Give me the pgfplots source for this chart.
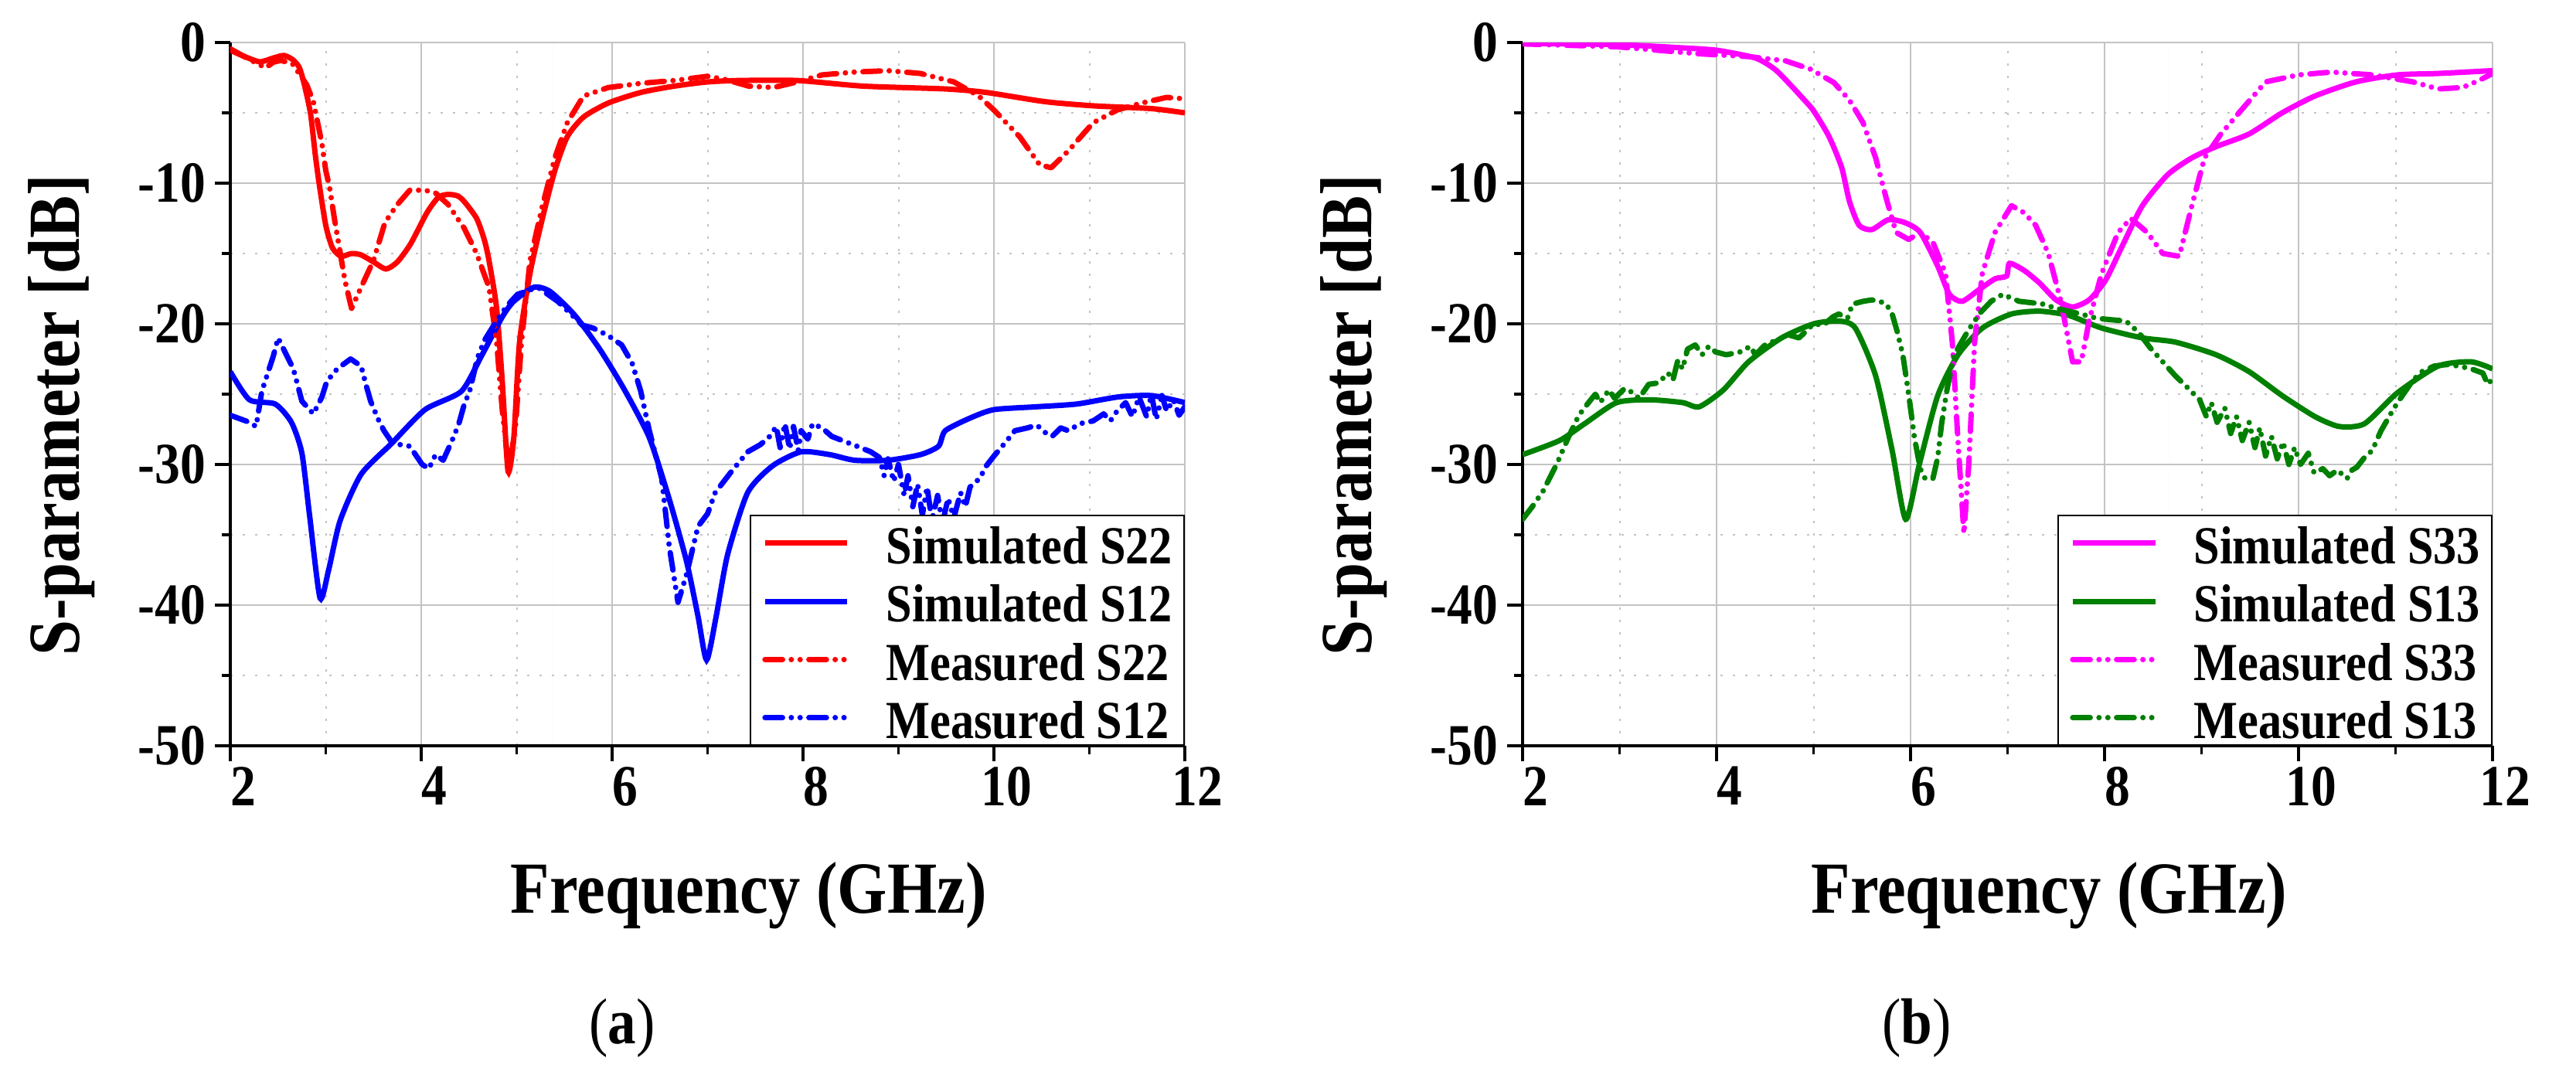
\documentclass[border=0pt]{standalone}
\usepackage{fontspec}
\setmainfont{Liberation Serif}[FakeStretch=0.87]
\usepackage{pgfplots}
\pgfplotsset{compat=1.18}

\definecolor{shade}{RGB}{211,236,241}
\definecolor{dgreen}{RGB}{0,128,0}
\definecolor{pmag}{RGB}{255,0,255}
\definecolor{pred}{RGB}{255,0,0}
\definecolor{pblue}{RGB}{0,0,255}
\definecolor{majgrid}{RGB}{195,195,195}
\definecolor{mingrid}{RGB}{195,195,195}

\newcommand{\tickfont}{\fontsize{11.3}{13}\selectfont\bfseries}

\pgfplotsset{
 sparam/.style={
  scale only axis, set layers,
  height=136.5pt,
  xmin=2,xmax=12,ymin=-50,ymax=0,
  xtick={2,4,...,12}, ytick={-50,-40,...,0},
  minor x tick num=1, minor y tick num=1,
  axis x line=bottom, axis y line=left,
  axis line style={-, line width=0.5pt, black},
  tick align=outside, major tick length=3pt, minor tick length=1.6pt,
  every tick/.style={black, line width=0.5pt},
  grid=both,
  major grid style={majgrid, line width=0.35pt},
  minor grid style={mingrid, dotted, line width=0.3pt},
  /pgf/number format/assume math mode=true,
  xticklabel={\tickfont\pgfmathprintnumber[assume math mode=true]{\tick}},
  yticklabel={\tickfont\pgfmathprintnumber[assume math mode=true]{\tick}},
  xticklabel style={font=\tickfont, inner sep=0pt, anchor=north, yshift=-0.9pt, xshift=2.5pt},
  yticklabel style={font=\tickfont, inner sep=0pt, anchor=east, xshift=-1.6pt},
  xlabel={Frequency (GHz)}, ylabel={S-parameter [dB]},
  label style={font=\fontsize{14.25}{16}\selectfont\bfseries, inner sep=0pt},
  xlabel style={at={(axis description cs:0.543,-0.1637)}, anchor=north},
  legend style={at={(1,0)}, anchor=south east, draw=black, line width=0.3pt, fill=white,
     font=\fontsize{10.4}{12}\selectfont\bfseries,
     inner xsep=2.25pt, inner ysep=0.7pt, row sep=2.1pt, column sep=7pt,
     nodes={inner sep=0pt, text height=8.6pt, text depth=0.6pt}},
  legend cell align=left,
  legend image code/.code={\draw[#1] (0pt,0pt) -- (16pt,0pt);},
 },
 sim/.style={line width=1.05pt, smooth, tension=0.4},
 meas/.style={line width=1.05pt, line cap=round, line join=round,
   dash pattern=on 3.4pt off 1.7pt on 0.01pt off 1.7pt on 0.01pt off 1.7pt},
}

\begin{document}
\begin{tikzpicture}
\path (0,0) rectangle (499.95pt,207.9pt);

%================ (a) ================
\begin{axis}[sparam, at={(44.7pt,63.15pt)}, anchor=south west, width=185.25pt,
  ylabel style={at={(axis description cs:-0.141,0.47)}, anchor=south}]
\addplot[fill=shade, draw=none, forget plot, on layer=axis background]
  coordinates {(2.95,-50)(2.95,0)(5.38,0)(5.38,-50)} \closedcycle;

% Simulated S22
\addplot[sim, pred] coordinates {
(2.0,-0.55)(2.15,-1.0)(2.31,-1.37)(2.45,-1.1)(2.56,-0.92)(2.65,-1.2)(2.72,-1.74)(2.77,-2.84)(2.84,-5.04)(2.89,-7.97)(2.93,-10)(3.0,-13.0)(3.07,-14.6)(3.16,-15.2)(3.27,-15.0)(3.37,-15.1)(3.5,-15.6)(3.63,-16.1)(3.75,-15.6)(3.89,-14.3)(4.06,-12.1)(4.18,-11.0)(4.28,-10.8)(4.38,-10.9)(4.45,-11.3)(4.58,-12.5)(4.66,-14)(4.71,-15.5)(4.79,-18.9)(4.85,-24.2)(4.91,-30.5)(4.97,-28.1)(5.03,-21.3)(5.14,-16.4)(5.27,-12.5)(5.40,-9.1)(5.53,-6.7)(5.70,-5.3)(5.96,-4.3)(6.30,-3.55)(6.65,-3.1)(7.0,-2.8)(7.34,-2.7)(7.94,-2.7)(8.63,-3.1)(9.49,-3.3)(9.92,-3.55)(10.53,-4.2)(11.04,-4.5)(11.65,-4.7)(12,-5.0)};
\addlegendentry{Simulated S22}

% Simulated S12
\addplot[sim, pblue] coordinates {
(2.0,-23.4)(2.2,-25.4)(2.47,-25.7)(2.64,-27.0)(2.75,-29.2)(2.83,-33.6)(2.94,-39.5)(3.03,-37.5)(3.15,-34)(3.37,-30.7)(3.69,-28.5)(4.04,-26.1)(4.42,-24.8)(4.63,-22.3)(4.85,-19.5)(4.97,-18.4)(5.18,-17.4)(5.35,-17.7)(5.61,-19.4)(5.87,-21.8)(6.13,-24.7)(6.39,-28.1)(6.6,-32.5)(6.78,-36.9)(6.9,-40.8)(6.99,-43.9)(7.09,-40.8)(7.21,-36.4)(7.42,-32.0)(7.68,-30.1)(7.98,-29.1)(8.28,-29.3)(8.54,-29.7)(8.89,-29.7)(9.23,-29.3)(9.42,-28.7)(9.49,-27.6)(9.75,-26.7)(10.0,-26.1)(10.44,-25.9)(10.87,-25.7)(11.3,-25.2)(11.65,-25.1)(12,-25.6)};
\addlegendentry{Simulated S12}

% Measured S22
\addplot[meas, pred] coordinates {
(2.0,-0.45)(2.2,-1.2)(2.37,-1.8)(2.45,-1.4)(2.53,-1.27)(2.65,-1.5)(2.75,-2.5)(2.8,-3.0)(2.87,-4.2)(2.96,-7.2)(3.0,-9.1)(3.04,-10.3)(3.09,-12.5)(3.14,-14.5)(3.2,-16.9)(3.27,-18.9)(3.37,-17.4)(3.5,-15.5)(3.62,-12.8)(3.74,-11.6)(3.88,-10.5)(4.04,-10.5)(4.15,-10.7)(4.28,-11.5)(4.34,-12.1)(4.45,-13.2)(4.58,-15)(4.71,-17.4)(4.79,-21.3)(4.85,-26.2)(4.92,-30.5)(4.99,-27.1)(5.05,-21.3)(5.14,-15.5)(5.27,-11.6)(5.40,-8.2)(5.53,-5.7)(5.70,-3.8)(5.96,-3.2)(6.30,-2.9)(6.65,-2.7)(7.0,-2.4)(7.17,-2.6)(7.43,-3.1)(7.69,-3.2)(7.94,-2.8)(8.2,-2.3)(8.54,-2.1)(8.89,-2.0)(9.23,-2.2)(9.58,-2.8)(9.84,-3.8)(10.0,-4.8)(10.27,-6.7)(10.48,-8.7)(10.6,-8.9)(10.78,-7.7)(11.04,-5.7)(11.29,-4.8)(11.55,-4.3)(11.81,-3.9)(12,-4.0)};
\addlegendentry{Measured S22}

% Measured S12
\addplot[meas, pblue] coordinates {
(2.0,-26.5)(2.2,-27.0)(2.27,-27.3)(2.33,-24.8)(2.45,-22.3)(2.5,-21.0)(2.66,-23.2)(2.75,-25.5)(2.87,-26.4)(2.96,-25.2)(3.01,-24.1)(3.12,-23.2)(3.26,-22.5)(3.37,-23.0)(3.42,-24.3)(3.47,-25.5)(3.55,-26.8)(3.61,-27.6)(3.7,-28.5)(3.88,-28.7)(3.94,-29.3)(4.01,-30.0)(4.08,-30.3)(4.15,-29.3)(4.23,-29.7)(4.31,-28.5)(4.39,-27.2)(4.46,-25.5)(4.5,-25.0)(4.59,-22.4)(4.66,-21.2)(4.77,-20.0)(4.9,-18.7)(5.01,-17.9)(5.22,-17.4)(5.43,-18.4)(5.69,-20.1)(5.8,-20.3)(5.95,-20.8)(6.1,-21.5)(6.21,-22.8)(6.3,-24.8)(6.39,-27.6)(6.52,-31.0)(6.6,-35.9)(6.69,-39.8)(6.78,-37.8)(6.9,-34.4)(7.0,-33.5)(7.08,-32)(7.25,-30.5)(7.42,-29.1)(7.55,-28.6)(7.64,-28.1)(7.72,-27.3)(7.76,-28.8)(7.81,-27.1)(7.86,-28.9)(7.9,-27.3)(7.95,-29)(7.98,-27.6)(8.05,-28.2)(8.1,-27.1)(8.2,-27.4)(8.3,-28)(8.45,-28.4)(8.6,-28.8)(8.71,-29.1)(8.8,-29.5)(8.85,-30.8)(8.89,-29.6)(8.95,-31.2)(9.0,-30.0)(9.06,-32.2)(9.1,-30.8)(9.15,-33.0)(9.2,-31.4)(9.25,-33.6)(9.3,-31.6)(9.35,-34.0)(9.41,-32.2)(9.46,-34.2)(9.52,-32.4)(9.58,-33.8)(9.65,-32.0)(9.7,-33.0)(9.75,-31.6)(9.85,-31.0)(9.92,-30.1)(10.0,-29.4)(10.1,-28.6)(10.22,-27.6)(10.35,-27.4)(10.45,-27.2)(10.55,-27.8)(10.61,-28.0)(10.7,-27.4)(10.78,-27.6)(10.9,-27.1)(11.04,-26.9)(11.15,-26.4)(11.22,-26.9)(11.29,-26.2)(11.38,-25.6)(11.45,-26.6)(11.52,-25.2)(11.6,-26.6)(11.65,-25.0)(11.7,-26.8)(11.76,-25.1)(11.81,-26.2)(11.88,-25.4)(11.94,-26.5)(12,-25.9)};
\addlegendentry{Measured S12}
\end{axis}

%================ (b) ================
\begin{axis}[sparam, at={(295.5pt,63.15pt)}, anchor=south west, width=188.25pt,
  ylabel style={at={(axis description cs:-0.139,0.47)}, anchor=south}]
\addplot[fill=shade, draw=none, forget plot, on layer=axis background]
  coordinates {(5.34,-50)(5.34,0)(8.66,0)(8.66,-50)} \closedcycle;

% Simulated S33
\addplot[sim, pmag] coordinates {
(2,-0.05)(2.97,-0.15)(3.57,-0.35)(4.0,-0.55)(4.4,-1.1)(4.6,-1.9)(4.76,-3.0)(4.88,-3.9)(5.0,-4.85)(5.16,-6.7)(5.29,-8.9)(5.37,-11.3)(5.47,-13.0)(5.6,-13.3)(5.77,-12.6)(5.94,-12.8)(6.1,-13.5)(6.28,-15.9)(6.4,-17.9)(6.53,-18.4)(6.7,-17.6)(6.87,-16.8)(6.99,-16.6)(7.02,-15.7)(7.17,-16.2)(7.33,-17.1)(7.5,-18.3)(7.67,-18.8)(7.84,-18.3)(8.01,-16.9)(8.18,-14.5)(8.39,-11.6)(8.65,-9.4)(8.9,-8.2)(9.15,-7.4)(9.49,-6.5)(9.83,-5.0)(10.17,-3.8)(10.59,-2.8)(11.02,-2.3)(11.44,-2.2)(12,-2.0)};
\addlegendentry{Simulated S33}

% Simulated S13
\addplot[sim, dgreen] coordinates {
(2,-29.3)(2.38,-28.3)(2.64,-27.1)(2.97,-25.6)(3.31,-25.4)(3.65,-25.6)(3.82,-25.9)(4.07,-24.7)(4.33,-22.7)(4.67,-21.0)(5.0,-20.0)(5.26,-19.8)(5.43,-20.3)(5.64,-23.7)(5.81,-29)(5.95,-33.9)(6.09,-30)(6.28,-25.1)(6.49,-22.2)(6.74,-20.3)(7.04,-19.3)(7.33,-19.1)(7.63,-19.4)(7.97,-20.3)(8.39,-21.0)(8.73,-21.3)(9.15,-22.2)(9.49,-23.4)(9.83,-25.1)(10.17,-26.6)(10.42,-27.3)(10.68,-27.1)(11.02,-24.9)(11.44,-23.0)(11.78,-22.7)(12,-23.2)};
\addlegendentry{Simulated S13}

% Measured S33
\addplot[meas, pmag] coordinates {
(2,-0.1)(2.97,-0.3)(3.82,-0.8)(4.33,-1.0)(4.71,-1.3)(4.97,-1.9)(5.21,-2.85)(5.37,-4.1)(5.51,-5.7)(5.64,-8.2)(5.75,-11.1)(5.85,-13.5)(5.98,-14)(6.1,-13.5)(6.23,-14.2)(6.36,-16.4)(6.43,-21.3)(6.49,-28.5)(6.55,-34.9)(6.6,-30)(6.66,-21.3)(6.74,-16.4)(6.87,-13.5)(7.04,-11.6)(7.17,-12.1)(7.29,-13.0)(7.42,-15)(7.55,-18.4)(7.67,-22.7)(7.76,-22.7)(7.84,-19.8)(7.97,-16.4)(8.14,-13.5)(8.27,-12.5)(8.44,-13.5)(8.6,-15)(8.77,-15.2)(8.9,-11.6)(9.03,-8.2)(9.2,-6.5)(9.41,-4.8)(9.66,-2.8)(10,-2.3)(10.34,-2.1)(10.76,-2.3)(11.18,-2.8)(11.44,-3.3)(11.69,-3.2)(11.86,-2.7)(12,-2.2)};
\addlegendentry{Measured S33}

% Measured S13
\addplot[meas, dgreen] coordinates {
(2,-33.9)(2.1,-33)(2.21,-31.9)(2.35,-30)(2.47,-28.1)(2.58,-26.5)(2.68,-25.6)(2.75,-25.0)(2.8,-25.6)(2.89,-24.7)(2.95,-25.3)(3.05,-24.6)(3.14,-24.9)(3.2,-25.3)(3.3,-24.3)(3.4,-24.2)(3.5,-23.5)(3.55,-24.0)(3.6,-22.6)(3.65,-23.2)(3.7,-21.8)(3.78,-21.5)(3.85,-22.2)(3.92,-21.6)(3.99,-22)(4.1,-22.2)(4.24,-22)(4.35,-21.6)(4.4,-22.2)(4.5,-21.5)(4.6,-21.2)(4.75,-20.8)(4.85,-21.0)(5.0,-20)(5.1,-20.1)(5.2,-19.5)(5.26,-19.3)(5.35,-19.6)(5.4,-18.6)(5.51,-18.4)(5.6,-18.3)(5.68,-18.4)(5.75,-18.6)(5.81,-19.3)(5.86,-20.5)(5.92,-22.2)(5.98,-25)(6.04,-28.1)(6.1,-30.3)(6.15,-31)(6.23,-31)(6.28,-29.5)(6.32,-27.1)(6.38,-24.5)(6.45,-22.2)(6.55,-21.0)(6.61,-20.3)(6.72,-19.2)(6.83,-18.4)(6.95,-17.9)(7.05,-18.2)(7.12,-18.4)(7.25,-18.5)(7.37,-18.6)(7.5,-18.9)(7.63,-19.1)(7.75,-19.3)(7.92,-19.6)(8.05,-19.7)(8.22,-19.8)(8.35,-20.6)(8.47,-21.7)(8.6,-22.7)(8.73,-23.7)(8.85,-24.5)(8.98,-25.4)(9.05,-26.6)(9.1,-25.6)(9.16,-27.0)(9.24,-26.0)(9.3,-27.8)(9.36,-26.6)(9.42,-28.3)(9.49,-27.0)(9.55,-28.8)(9.6,-27.4)(9.66,-29.4)(9.72,-28.0)(9.78,-29.6)(9.84,-28.4)(9.9,-30.0)(9.96,-28.8)(10.02,-30.0)(10.1,-29.2)(10.16,-30.6)(10.25,-30.3)(10.32,-30.8)(10.4,-30.4)(10.5,-31.0)(10.55,-30.4)(10.6,-30.2)(10.68,-29.5)(10.76,-29)(10.85,-27.6)(10.95,-26.4)(11.02,-25.6)(11.1,-24.8)(11.18,-24.0)(11.27,-23.4)(11.4,-23.0)(11.52,-22.9)(11.65,-23.0)(11.78,-23.2)(11.9,-23.5)(11.95,-24.3)(12,-23.9)};
\addlegendentry{Measured S13}
\end{axis}

\node[anchor=base, font=\fontsize{12.6}{14}\selectfont] at (120.75pt,5.4pt) {(\textbf{a})};
\node[anchor=base, font=\fontsize{12.6}{14}\selectfont] at (372pt,5.4pt) {(\textbf{b})};
\end{tikzpicture}
\end{document}
